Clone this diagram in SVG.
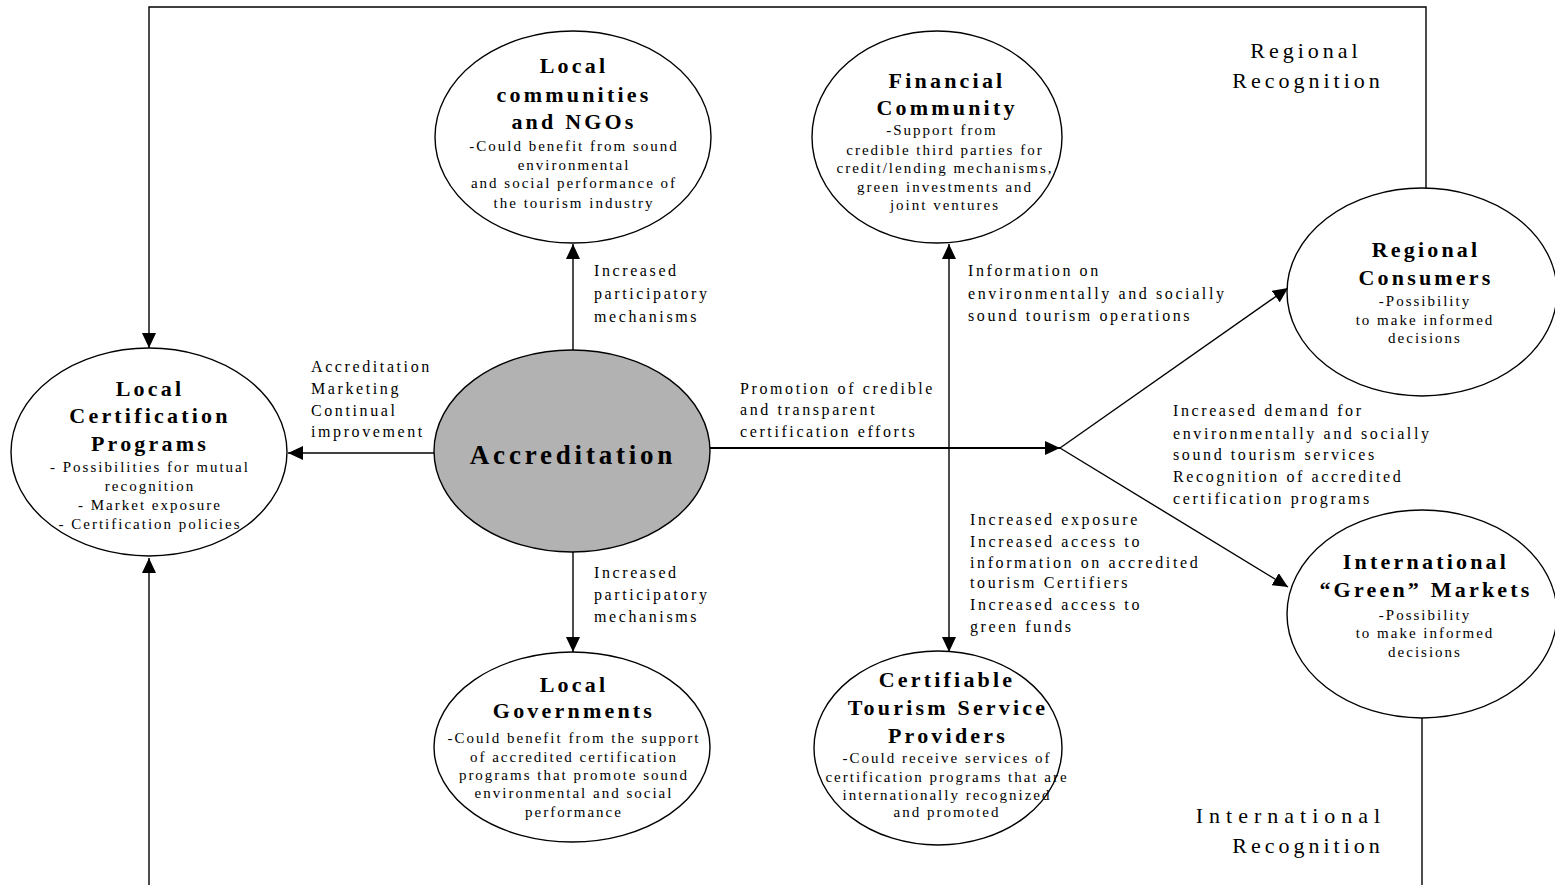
<svg xmlns="http://www.w3.org/2000/svg" width="1555" height="885" viewBox="0 0 1555 885">
  <style>
    .node { fill: #ffffff; stroke: #000000; stroke-width: 1.4; }
    .core { fill: #b2b2b2; stroke: #000000; stroke-width: 1.4; }
    .edge { fill: none; stroke: #000000; stroke-width: 1.4; }
    text { font-family: "Liberation Serif", "Times New Roman", serif; fill: #000000; }
    .title { font-size: 22px; font-weight: bold; letter-spacing: 3.2px; text-anchor: middle; }
    .body { font-size: 15px; letter-spacing: 2px; text-anchor: middle; }
    .label { font-size: 16px; letter-spacing: 2.6px; }
    .big { font-size: 27px; font-weight: bold; letter-spacing: 3.8px; text-anchor: middle; }
    .region { font-size: 22px; letter-spacing: 4px; text-anchor: middle; }
  </style>
  <defs>
    <marker id="arrow" markerUnits="userSpaceOnUse" markerWidth="16" markerHeight="14" refX="15" refY="7" orient="auto-start-reverse">
      <path d="M0,0 L15,7 L0,14 Z" fill="#000000"/>
    </marker>
  </defs>

  <rect width="1555" height="885" fill="#ffffff"/>

  <!-- connectors -->
  <g id="connectors">
    <path class="edge" d="M1426,188 V7 H149 V348" marker-end="url(#arrow)"/>
    <path class="edge" d="M149,885 V558" marker-end="url(#arrow)"/>
    <path class="edge" d="M1422,718 V885"/>
    <path class="edge" d="M434,453 H288" marker-end="url(#arrow)"/>
    <path class="edge" d="M573,350 V244" marker-end="url(#arrow)"/>
    <path class="edge" d="M573,552 V652" marker-end="url(#arrow)"/>
    <path class="edge" d="M949,244 V652" marker-start="url(#arrow)" marker-end="url(#arrow)"/>
    <path class="edge" d="M710,448 H1060" marker-end="url(#arrow)" style="stroke-width:1.8"/>
    <path class="edge" d="M1060,448 L1288,288" marker-end="url(#arrow)"/>
    <path class="edge" d="M1060,448 L1288,587" marker-end="url(#arrow)"/>
  </g>

  <!-- connector labels -->
  <g id="labels">
    <text class="label" x="311" y="372">Accreditation</text>
    <text class="label" x="311" y="394">Marketing</text>
    <text class="label" x="311" y="416">Continual</text>
    <text class="label" x="311" y="437">improvement</text>

    <text class="label" x="594" y="276">Increased</text>
    <text class="label" x="594" y="299">participatory</text>
    <text class="label" x="594" y="322">mechanisms</text>

    <text class="label" x="594" y="578">Increased</text>
    <text class="label" x="594" y="600">participatory</text>
    <text class="label" x="594" y="622">mechanisms</text>

    <text class="label" x="968" y="276">Information on</text>
    <text class="label" x="968" y="299">environmentally and socially</text>
    <text class="label" x="968" y="321">sound tourism operations</text>

    <text class="label" x="740" y="394">Promotion of credible</text>
    <text class="label" x="740" y="415">and transparent</text>
    <text class="label" x="740" y="437">certification efforts</text>

    <text class="label" x="1173" y="416">Increased demand for</text>
    <text class="label" x="1173" y="439">environmentally and socially</text>
    <text class="label" x="1173" y="460">sound tourism services</text>
    <text class="label" x="1173" y="482">Recognition of accredited</text>
    <text class="label" x="1173" y="504">certification programs</text>

    <text class="label" x="970" y="525">Increased exposure</text>
    <text class="label" x="970" y="547">Increased access to</text>
    <text class="label" x="970" y="568">information on accredited</text>
    <text class="label" x="970" y="588">tourism Certifiers</text>
    <text class="label" x="970" y="610">Increased access to</text>
    <text class="label" x="970" y="632">green funds</text>

    <text class="region" x="1306" y="58">Regional</text>
    <text class="region" x="1308" y="88">Recognition</text>
    <text class="region" x="1291" y="823" style="letter-spacing:6px">International</text>
    <text class="region" x="1308" y="853">Recognition</text>
  </g>

  <!-- nodes -->
  <g id="accreditation">
    <ellipse class="core" cx="572" cy="451" rx="138" ry="101"/>
    <text class="big" x="573" y="464">Accreditation</text>
  </g>

  <g id="local-certification">
    <ellipse class="node" cx="149" cy="452" rx="138" ry="104"/>
    <text class="title" x="150" y="396">Local</text>
    <text class="title" x="150" y="423">Certification</text>
    <text class="title" x="150" y="451">Programs</text>
    <text class="body" x="150" y="472">- Possibilities for mutual</text>
    <text class="body" x="150" y="491">recognition</text>
    <text class="body" x="150" y="510">- Market exposure</text>
    <text class="body" x="150" y="529">- Certification policies</text>
  </g>

  <g id="local-communities">
    <ellipse class="node" cx="573" cy="137" rx="138" ry="106"/>
    <text class="title" x="574" y="73">Local</text>
    <text class="title" x="574" y="102">communities</text>
    <text class="title" x="574" y="129">and NGOs</text>
    <text class="body" x="574" y="151">-Could benefit from sound</text>
    <text class="body" x="574" y="170">environmental</text>
    <text class="body" x="574" y="188">and social performance of</text>
    <text class="body" x="574" y="208">the tourism industry</text>
  </g>

  <g id="financial-community">
    <ellipse class="node" cx="937" cy="137" rx="125" ry="106"/>
    <text class="title" x="947" y="88">Financial</text>
    <text class="title" x="947" y="115">Community</text>
    <text class="body" x="942" y="135">-Support from</text>
    <text class="body" x="945" y="155">credible third parties for</text>
    <text class="body" x="945" y="173">credit/lending mechanisms,</text>
    <text class="body" x="945" y="192">green investments and</text>
    <text class="body" x="945" y="210">joint ventures</text>
  </g>

  <g id="regional-consumers">
    <ellipse class="node" cx="1422" cy="292" rx="135" ry="104"/>
    <text class="title" x="1426" y="257">Regional</text>
    <text class="title" x="1426" y="285">Consumers</text>
    <text class="body" x="1425" y="306">-Possibility</text>
    <text class="body" x="1425" y="325">to make informed</text>
    <text class="body" x="1425" y="343">decisions</text>
  </g>

  <g id="international-markets">
    <ellipse class="node" cx="1422" cy="614" rx="135" ry="104"/>
    <text class="title" x="1426" y="569">International</text>
    <text class="title" x="1426" y="597">“Green” Markets</text>
    <text class="body" x="1425" y="620">-Possibility</text>
    <text class="body" x="1425" y="638">to make informed</text>
    <text class="body" x="1425" y="657">decisions</text>
  </g>

  <g id="local-governments">
    <ellipse class="node" cx="572" cy="747" rx="138" ry="95"/>
    <text class="title" x="574" y="692">Local</text>
    <text class="title" x="574" y="718">Governments</text>
    <text class="body" x="574" y="743">-Could benefit from the support</text>
    <text class="body" x="574" y="762">of accredited certification</text>
    <text class="body" x="574" y="780">programs that promote sound</text>
    <text class="body" x="574" y="798">environmental and social</text>
    <text class="body" x="574" y="817">performance</text>
  </g>

  <g id="service-providers">
    <ellipse class="node" cx="938" cy="748" rx="124" ry="97"/>
    <text class="title" x="947" y="687">Certifiable</text>
    <text class="title" x="948" y="715">Tourism Service</text>
    <text class="title" x="948" y="743">Providers</text>
    <text class="body" x="947" y="763">-Could receive services of</text>
    <text class="body" x="947" y="782">certification programs that are</text>
    <text class="body" x="947" y="800">internationally  recognized</text>
    <text class="body" x="947" y="817">and promoted</text>
  </g>
</svg>
